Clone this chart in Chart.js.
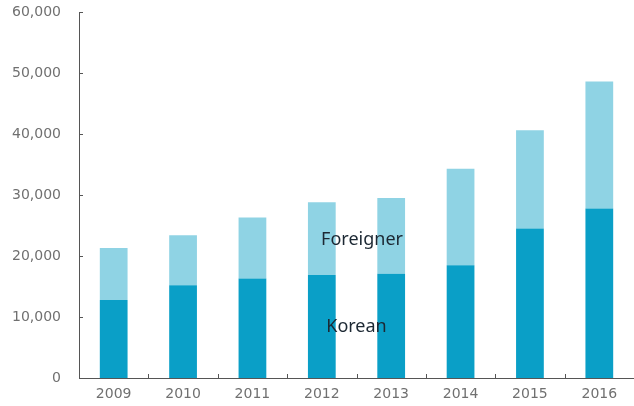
<!DOCTYPE html>
<html>
<head>
<meta charset="utf-8">
<script src="https://cdn.jsdelivr.net/npm/chart.js@4"></script>
<style>
  html, body { margin: 0; padding: 0; background: #fff; }
  #wrap { width: 634px; height: 406px; }
</style>
</head>
<body>
<div id="wrap"><canvas id="chart" width="634" height="406"></canvas></div>
<script>
var years = ['2009', '2010', '2011', '2012', '2013', '2014', '2015', '2016'];
var korean = [12800, 15200, 16300, 16900, 17100, 18500, 24500, 27800];
var foreigner = [8500, 8200, 10000, 11900, 12400, 15800, 16100, 20800];
var yTicks = [0, 10000, 20000, 30000, 40000, 50000, 60000];

// small tick marks pointing into the plot, plus the two series labels
var innerTicks = {
  id: 'innerTicks',
  afterDraw: function(chart) {
    var ctx = chart.ctx;
    var x = chart.scales.x, y = chart.scales.y;
    ctx.save();
    ctx.strokeStyle = '#555';
    ctx.lineWidth = 1;
    ctx.beginPath();
    yTicks.forEach(function(v) {
      var py = Math.round(y.getPixelForValue(v)) + 0.5;
      ctx.moveTo(x.left, py);
      ctx.lineTo(x.left + 4, py);
    });
    for (var i = 1; i < years.length; i++) {
      var px = Math.round(x.getPixelForValue(i - 0.5)) + 0.5;
      ctx.moveTo(px, y.bottom);
      ctx.lineTo(px, y.bottom - 4);
    }
    ctx.stroke();

    ctx.fillStyle = '#1c2833';
    ctx.font = '18px "Noto Sans"';
    ctx.textAlign = 'center';
    ctx.textBaseline = 'middle';
    ctx.fillText('Foreigner', x.getPixelForValue(3.58), y.getPixelForValue(22600));
    ctx.fillText('Korean', x.getPixelForValue(3.5), y.getPixelForValue(8400));
    ctx.restore();
  }
};

new Chart(document.getElementById('chart').getContext('2d'), {
  type: 'bar',
  data: {
    labels: years,
    datasets: [
      { label: 'Korean', data: korean, backgroundColor: '#0a9fc7', borderWidth: 0,
        barPercentage: 0.4, categoryPercentage: 1.0 },
      { label: 'Foreigner', data: foreigner, backgroundColor: '#8fd3e4', borderWidth: 0,
        barPercentage: 0.4, categoryPercentage: 1.0 }
    ]
  },
  options: {
    responsive: false,
    animation: false,
    layout: { padding: { top: 12, right: 0, left: 0, bottom: 0 } },
    plugins: { legend: { display: false }, tooltip: { enabled: false } },
    scales: {
      x: {
        stacked: true,
        grid: { display: false, drawTicks: false },
        border: { display: true, color: '#555', width: 1 },
        ticks: { color: '#707070', font: { family: 'DejaVu Sans', size: 14 }, padding: 8 },
        afterFit: function(s) { s.height = 28; s.paddingLeft = 0; s.paddingRight = 0; }
      },
      y: {
        stacked: true,
        min: 0,
        max: 60000,
        grid: { display: false, drawTicks: false },
        border: { display: true, color: '#555', width: 1 },
        ticks: {
          stepSize: 10000,
          color: '#707070',
          font: { family: 'DejaVu Sans', size: 14 },
          padding: 18,
          callback: function(v) { return v.toLocaleString('en-US'); }
        },
        afterFit: function(s) { s.width = 79; s.paddingTop = 0; s.paddingBottom = 0; }
      }
    }
  },
  plugins: [innerTicks]
});
</script>
</body>
</html>
